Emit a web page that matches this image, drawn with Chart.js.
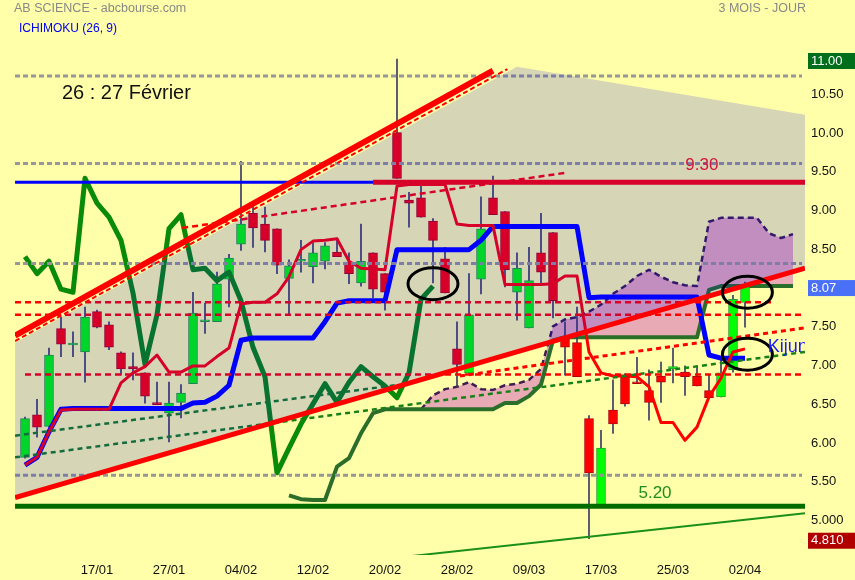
<!DOCTYPE html>
<html>
<head>
<meta charset="utf-8">
<script src="https://cdn.jsdelivr.net/npm/chart.js@4.4.1/dist/chart.umd.min.js"></script>
<style>
  html, body { margin: 0; padding: 0; background: #ffffaa; }
  #wrap { width: 855px; height: 580px; position: relative; }
</style>
</head>
<body>
<div id="wrap"><canvas id="chart-ichimoku"></canvas></div>
<script>
// Daily candles, index 0 = first session shown
const opens = [5.86, 6.41, 6.26, 7.52, 7.31, 7.22, 7.74, 7.57, 7.21, 7.03,
	6.95, 6.56, 6.43, 6.57, 6.81, 7.61, 7.61, 8.16, 8.61, 9.01,
	8.87, 8.81, 8.17, 8.39, 8.32, 8.39, 8.51, 8.38, 8.11, 8.50,
	8.23, 10.05, 9.18, 9.21, 8.91, 8.42, 7.26, 6.95, 8.16, 9.21,
	9.03, 7.99, 7.53, 8.50, 8.76, 7.39, 7.34, 6.36, 5.21, 6.47,
	6.90, 6.83, 6.72, 6.91, 7.00, 6.96, 6.91, 6.72, 6.64, 6.99, 7.86];
const highs = [6.38, 6.61, 7.27, 7.67, 7.48, 7.80, 7.76, 7.61, 7.22, 7.21,
	6.95, 6.83, 6.83, 6.80, 7.99, 7.85, 8.25, 8.48, 9.68, 9.10,
	9.09, 8.81, 8.41, 8.66, 8.63, 8.63, 8.69, 8.50, 8.87, 8.50,
	8.23, 11.00, 9.28, 9.36, 8.94, 8.57, 7.61, 8.23, 9.22, 9.49,
	9.03, 8.50, 8.57, 9.01, 8.76, 7.61, 7.80, 6.40, 6.21, 6.86,
	6.94, 7.15, 6.99, 7.09, 7.27, 7.04, 7.04, 6.92, 7.14, 7.95, 8.12];
const lows = [5.85, 6.12, 6.25, 7.16, 7.16, 6.83, 7.53, 7.25, 6.92, 6.86,
	6.56, 6.54, 6.06, 6.37, 6.81, 7.46, 7.61, 7.80, 8.53, 8.57,
	8.51, 8.23, 7.70, 8.25, 8.11, 8.29, 8.45, 8.10, 8.07, 7.92,
	7.76, 9.46, 8.83, 8.96, 8.11, 7.98, 6.76, 6.95, 7.97, 8.99,
	8.06, 7.63, 7.53, 8.11, 7.66, 6.92, 6.90, 4.81, 5.21, 6.17,
	6.52, 6.81, 6.34, 6.57, 6.82, 6.66, 6.78, 6.63, 6.64, 6.96, 7.54];
const closes = [6.36, 6.25, 7.18, 7.32, 7.32, 7.67, 7.54, 7.28, 7.00, 7.00,
	6.65, 6.54, 6.56, 6.69, 7.72, 7.62, 8.10, 8.43, 8.87, 8.82,
	8.66, 8.34, 8.33, 8.40, 8.50, 8.59, 8.45, 8.23, 8.39, 8.03,
	7.99, 9.46, 9.14, 8.96, 8.66, 7.98, 7.06, 7.70, 8.81, 8.99,
	8.28, 8.30, 8.14, 8.25, 7.88, 7.28, 6.90, 5.66, 5.98, 6.29,
	6.55, 6.81, 6.57, 6.83, 7.03, 6.90, 6.78, 6.63, 6.95, 7.90, 8.07];

// Axis labels
const tickIdx = [6, 12, 18, 24, 30, 36, 42, 48, 54, 60];
const tickLabels = ['17/01', '27/01', '04/02', '12/02', '20/02', '28/02', '09/03', '17/03', '25/03', '02/04'];
const priceTicks = [5, 5.5, 6, 6.5, 7, 7.5, 8.5, 9, 9.5, 10, 10.5];

// Ichimoku (26, 9)
const tenkan = [5.76, 5.86, 6.19, 6.47, 6.48, 6.48, 6.48, 6.48, 6.82, 6.95,
	7.03, 7.18, 6.96, 6.96, 7.04, 7.04, 7.16, 7.27, 7.84, 7.86,
	7.86, 7.97, 8.19, 8.54, 8.65, 8.66, 8.68, 8.39, 8.30, 8.29,
	8.28, 9.36, 9.38, 9.38, 9.38, 9.38, 8.87, 8.85, 8.85, 8.85,
	8.09, 8.09, 8.09, 8.09, 8.10, 8.20, 8.20, 7.22, 6.95, 6.91,
	6.91, 6.90, 6.77, 6.31, 6.31, 6.08, 6.25, 6.64, 6.88, 7.22, 7.26];
const kijun = [5.76, 5.86, 6.19, 6.48, 6.49, 6.49, 6.49, 6.49, 6.49, 6.49,
	6.49, 6.49, 6.49, 6.49, 6.56, 6.57, 6.65, 6.79, 7.37, 7.40,
	7.40, 7.40, 7.40, 7.40, 7.40, 7.61, 7.85, 7.88, 7.88, 7.88,
	7.88, 8.54, 8.54, 8.54, 8.54, 8.54, 8.54, 8.54, 8.66, 8.84,
	8.84, 8.84, 8.84, 8.84, 8.84, 8.84, 8.84, 7.92, 7.93, 7.93,
	7.93, 7.93, 7.93, 7.93, 7.93, 7.93, 7.93, 7.18, 7.14, 7.14, 7.14];
const chikou = [8.45, 8.23, 8.39, 8.03, 7.99, 9.46, 9.14, 8.96, 8.66, 7.98,
	7.06, 7.70, 8.81, 8.99, 8.28, 8.30, 8.14, 8.25, 7.88, 7.28,
	6.90, 5.66, 5.98, 6.29, 6.55, 6.81, 6.57, 6.83, 7.03, 6.90,
	6.78, 6.63, 6.95, 7.90, 8.07];
const senkouBStart = 22;
const senkouB = [5.37, 5.32, 5.31, 5.31, 5.74, 5.85, 6.17, 6.43,
	6.48, 6.48, 6.48, 6.48, 6.48, 6.48, 6.48, 6.48, 6.48, 6.48,
	6.56, 6.56, 6.65, 6.80, 7.37,
	7.41, 7.41, 7.41, 7.41, 7.41, 7.41, 7.41, 7.41, 7.41, 7.41, 7.41, 7.41,
	8.02, 8.07, 8.07, 8.07, 8.07, 8.07, 8.07, 8.07];
const senkouAStart = 33;
const senkouA = [6.48, 6.66, 6.74, 6.77, 6.83, 6.74, 6.73, 6.79, 6.81, 6.86,
	7.00, 7.55, 7.64, 7.67, 7.74, 7.83, 7.97, 8.07, 8.20, 8.28,
	8.19, 8.12, 8.08, 8.07, 8.90, 8.95, 8.95, 8.95, 8.95, 8.75,
	8.69, 8.74];

// Hand-drawn studies, [session index, price]
const channelTop = [[-0.83, 7.34], [41, 10.90], [65, 10.28]];
const channelBottom = [[-0.83, 5.34], [65, 8.30]];
const upperTrend = [[-0.83, 7.43], [39, 10.85]];
const upperTrendDash = [[-0.83, 7.36], [40.2, 10.87]];
const innerTrend = [[13.1, 8.82], [45, 9.53]];
const risingDash = [[36.25, 6.91], [65, 7.53]];
const greenDashA = [[-0.83, 6.14], [30.8, 6.79]];
const greenDashB = [[-0.83, 5.86], [65, 7.22]];
const bottomLine = [[31.25, 4.57], [65, 5.14]];
const resistance = 9.41;
const support = 5.23;
const greyLevels = [10.78, 9.65, 8.36, 5.63];
const redLevels = [7.86, 7.70, 6.93];
const redLevelEnds = [[-0.83, 62.3], [-0.83, 65], [0, 65]];
const rings = [[34.0, 8.10], [60.2, 7.99], [60.2, 7.19]];

const X0 = -0.83, X1 = 65;

const pts = pairs => pairs.map(([x, y]) => ({ x, y }));
const seq = (start, values) => values.map((y, k) => ({ x: start + k, y }));
const flat = (v, from, to) => [{ x: from, y: v }, { x: to, y: v }];

function line(data, color, width, order, extra) {
	return Object.assign({
		type: 'line',
		data,
		borderColor: color,
		borderWidth: width,
		pointRadius: 0,
		fill: false,
		tension: 0,
		borderJoinStyle: 'round',
		order,
	}, extra || {});
}

const idx = opens.map((_, i) => i);
const up = i => closes[i] >= opens[i];

const datasets = [
	// above the channel tint
	line(pts(upperTrend), '#ff0000', 6, 1),
	line(pts(upperTrendDash), '#ff0000', 2, 1, { borderDash: [5, 3] }),
	line(pts(channelBottom), '#ff0000', 5, 1),
	line(flat(support, X0, X1), '#006c00', 5, 1),
	line(pts(bottomLine), '#1a8f1a', 2, 1),

	// channel tint
	line(pts(channelTop), 'transparent', 0, 3, { fill: '+1', backgroundColor: 'rgba(0, 0, 255, 0.16)' }),
	line(pts(channelBottom), 'transparent', 0, 3),

	// levels under the tint
	...greyLevels.map(v => line(flat(v, X0, 64.75), '#969696', 3, 4, { borderDash: [5, 3] })),
	...redLevels.map((v, k) => line(flat(v, redLevelEnds[k][0], redLevelEnds[k][1]), '#ff0000', 2.5, 4, { borderDash: [6, 4] })),
	line(flat(resistance, 29, X1), '#ff0000', 5, 4),
	line(flat(resistance, X0, 29), '#0000ff', 3, 4),
	line(pts(innerTrend), '#ff0000', 2.5, 4, { borderDash: [6, 4] }),
	line(pts(risingDash), '#ff0000', 3, 4, { borderDash: [5, 4] }),
	line(pts(greenDashA), '#188018', 2.5, 4, { borderDash: [5, 4] }),
	line(pts(greenDashB), '#188018', 2.5, 4, { borderDash: [5, 4] }),

	// ichimoku lines
	line(seq(0, tenkan), '#ff0000', 3, 5),
	line(seq(0, kijun), '#0000ff', 5, 5),
	line(seq(0, chikou), '#0a8a0a', 5, 5),

	// candles
	{
		type: 'bar',
		data: idx.map(i => ({ x: i, y: [opens[i], closes[i]] })),
		backgroundColor: idx.map(i => (up(i) ? '#00ff00' : '#ff0000')),
		borderColor: idx.map(i => (up(i) ? '#2a9a3a' : '#b00010')),
		borderWidth: 1,
		borderSkipped: false,
		barThickness: 9,
		minBarLength: 2,
		grouped: false,
		order: 6,
	},
	{
		type: 'bar',
		data: idx.map(i => ({ x: i, y: [lows[i], highs[i]] })),
		backgroundColor: '#3c3c64',
		barThickness: 1,
		grouped: false,
		order: 7,
	},

	// cloud
	line(seq(senkouAStart, senkouA), '#3c1e50', 2.5, 9, { borderDash: [6, 4], fill: '+1', backgroundColor: '#e8aab4' }),
	line(seq(senkouBStart, senkouB), '#2a6e2a', 4, 8),
];

const notes = {
	id: 'notes',
	afterDatasetsDraw(chart) {
		const { ctx, chartArea: a, scales: { x, y } } = chart;
		const fam = "'Liberation Sans', Arial, sans-serif";
		ctx.save();
		ctx.beginPath();
		ctx.rect(a.left, a.top, a.right - a.left, a.bottom - a.top);
		ctx.clip();

		ctx.strokeStyle = '#000';
		ctx.lineWidth = 3;
		rings.forEach(([i, v]) => {
			ctx.beginPath();
			ctx.ellipse(x.getPixelForValue(i), y.getPixelForValue(v), 25, 16, 0, 0, Math.PI * 2);
			ctx.stroke();
		});

		ctx.textBaseline = 'middle';
		ctx.textAlign = 'left';
		ctx.fillStyle = '#111';
		ctx.font = '20px ' + fam;
		ctx.fillText('26 : 27 Février', x.getPixelForValue(3.08), y.getPixelForValue(10.55));

		ctx.textAlign = 'center';
		ctx.fillStyle = '#d4143c';
		ctx.font = '17px ' + fam;
		ctx.fillText('9.30', x.getPixelForValue(56.4), y.getPixelForValue(9.63));
		ctx.fillStyle = '#1e8c1e';
		ctx.fillText('5.20', x.getPixelForValue(52.5), y.getPixelForValue(5.40));

		ctx.textAlign = 'left';
		ctx.fillStyle = '#1a1aff';
		ctx.font = '18px ' + fam;
		ctx.fillText('Kijun a', x.getPixelForValue(61.9), y.getPixelForValue(7.28));
		ctx.restore();

		// header
		ctx.save();
		ctx.textBaseline = 'middle';
		ctx.font = '12.5px ' + fam;
		ctx.fillStyle = '#888';
		ctx.textAlign = 'left';
		ctx.fillText('AB SCIENCE - abcbourse.com', 14, 9);
		ctx.textAlign = 'right';
		ctx.fillText('3 MOIS - JOUR', 806, 9);
		ctx.textAlign = 'left';
		ctx.fillStyle = '#0000ee';
		ctx.font = '12px ' + fam;
		ctx.fillText('ICHIMOKU (26, 9)', 19, 29);

		// price badges on the axis
		const badges = [
			[Math.max(...highs), 2, '#006e1a'],
			[closes[closes.length - 1], 2, '#4a70f8'],
			[Math.min(...lows), 3, '#b00000'],
		];
		ctx.font = '13px ' + fam;
		badges.forEach(([v, dp, col]) => {
			const py = y.getPixelForValue(v) + 2;
			ctx.fillStyle = col;
			ctx.fillRect(a.right + 3, py - 8, 47, 16);
			ctx.fillStyle = '#fff';
			ctx.fillText(v.toFixed(dp), a.right + 6, py);
		});
		ctx.restore();
	},
};

Chart.defaults.font.family = "'Liberation Sans', Arial, sans-serif";

!(function () {
	const ctx = document.getElementById('chart-ichimoku');

	new Chart(ctx, {
		type: 'line',
		data: { datasets },
		options: {
			responsive: true,
			maintainAspectRatio: false,
			animation: false,
			events: [],
			layout: { padding: { left: 15, top: 0, right: 0, bottom: 0 } },
			plugins: {
				legend: { display: false },
				tooltip: { enabled: false },
			},
			scales: {
				x: {
					type: 'linear',
					min: -0.833,
					max: 65,
					offset: false,
					grid: { display: false, drawTicks: false },
					border: { display: false },
					afterBuildTicks: s => { s.ticks = tickIdx.map(v => ({ value: v })); },
					afterFit: s => {
						s.height = 25;
						s.paddingLeft = 0;
						s.paddingRight = 0;
					},
					ticks: {
						autoSkip: false,
						maxRotation: 0,
						padding: 8,
						color: '#111',
						font: { size: 13 },
						callback: (v, k) => tickLabels[k],
					},
				},
				y: {
					type: 'linear',
					position: 'right',
					min: 4.6,
					max: 11.761,
					grid: { display: false, drawTicks: false },
					border: { display: false },
					afterBuildTicks: s => { s.ticks = priceTicks.map(v => ({ value: v })); },
					afterFit: s => {
						s.width = 50;
						s.paddingTop = 0;
						s.paddingBottom = 0;
					},
					ticks: {
						padding: 6,
						labelOffset: -3.5,
						color: '#111',
						font: { size: 13 },
						callback: v => (v === 5 ? '5.000' : v.toFixed(2)),
					},
				},
			},
		},
		plugins: [notes],
	});
})();
</script>
</body>
</html>
